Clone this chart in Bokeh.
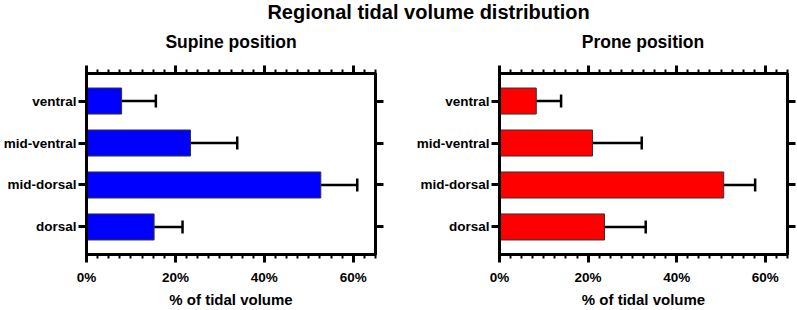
from bokeh.plotting import figure
from bokeh.layouts import column, row
from bokeh.models import (FactorRange, Range1d, LinearAxis, CategoricalAxis, FixedTicker,
                          Whisker, TeeHead, ColumnDataSource, Label, CustomLabelingPolicy)
from bokeh.embed import file_html
from bokeh.resources import INLINE

# ---------------- data ----------------
regions = ["ventral", "mid-ventral", "mid-dorsal", "dorsal"]
supine_mean = [7.9, 23.4, 52.7, 15.2]
supine_sd = [7.7, 10.5, 8.2, 6.4]
prone_mean = [8.3, 21.0, 50.6, 23.7]
prone_sd = [5.6, 11.1, 7.1, 9.3]
x_major_ticks = [0, 20, 40, 60]
x_tick_labels = ["0%", "20%", "40%", "60%"]
x_minor_ticks = [0, 2.5, 5, 7.5, 10, 12.5, 15, 17.5, 20, 22.5, 25, 27.5, 30, 32.5, 35,
                 37.5, 40, 42.5, 45, 47.5, 50, 52.5, 55, 57.5, 60, 62.5, 65]
main_title = "Regional tidal volume distribution"
panel_titles = ["Supine position", "Prone position"]
x_axis_label = "% of tidal volume"

FONT = "Liberation Sans"


def no_labels():
    return CustomLabelingPolicy(code="return []")


def panel(means, sds, color, width, border_left, border_right):
    src = ColumnDataSource(dict(region=regions, mean=means,
                                upper=[m + s for m, s in zip(means, sds)]))
    p = figure(width=width, height=255, title=None,
               y_range=FactorRange(*reversed(regions), range_padding=0.078),
               x_range=Range1d(0, 65),
               toolbar_location=None, output_backend="svg",
               min_border_left=border_left, min_border_right=border_right,
               min_border_top=18, min_border_bottom=40)
    p.hbar(y="region", left=0, right="mean", height=0.62, source=src,
           fill_color=color, line_color="#333333", line_width=1)
    w = Whisker(base="region", lower="mean", upper="upper", source=src,
                dimension="width", lower_head=None,
                upper_head=TeeHead(size=13, line_width=2.5, line_color="black"),
                line_width=2.5, line_color="black")
    p.add_layout(w)

    p.grid.visible = False
    p.outline_line_color = "black"
    p.outline_line_width = 3
    p.background_fill_color = "white"
    p.border_fill_color = "white"

    ticker = FixedTicker(ticks=x_major_ticks, minor_ticks=x_minor_ticks)
    overrides = {t: l for t, l in zip(x_major_ticks, x_tick_labels)}

    xa = p.xaxis[0]
    xa.ticker = ticker
    xa.major_label_overrides = overrides
    xa.axis_label = x_axis_label
    xa.axis_label_text_font = FONT
    xa.axis_label_text_font_size = "15px"
    xa.axis_label_text_font_style = "bold"
    xa.axis_label_text_color = "black"
    xa.axis_label_standoff = 3
    xa.major_label_text_font = FONT
    xa.major_label_text_font_size = "13.5px"
    xa.major_label_text_font_style = "bold"
    xa.major_label_standoff = 7

    top = LinearAxis(ticker=ticker, major_label_policy=no_labels(),
                     major_label_text_font_size="0px", major_label_standoff=0,
                     axis_label_standoff=0)
    p.add_layout(top, "above")
    right = CategoricalAxis(major_label_policy=no_labels(),
                            major_label_text_font_size="0px", major_label_standoff=0,
                            axis_label_standoff=0)
    p.add_layout(right, "right")

    ya = p.yaxis[0]
    ya.major_label_text_font = FONT
    ya.major_label_text_font_size = "13.5px"
    ya.major_label_text_font_style = "bold"
    ya.major_label_standoff = 2

    for ax in [xa, top, ya, right]:
        ax.axis_line_width = 3
        ax.axis_line_color = "black"
        ax.major_tick_line_width = 3
        ax.major_tick_line_color = "black"
        ax.major_tick_in = 0
        ax.major_tick_out = 8
        ax.minor_tick_line_width = 2
        ax.minor_tick_line_color = "black"
        ax.minor_tick_in = 0
        ax.minor_tick_out = 4
        ax.major_label_text_color = "black"
    return p


p1 = panel(supine_mean, supine_sd, "#0000FF", 400, 86, 25)
p2 = panel(prone_mean, prone_sd, "#FF0000", 397, 99, 10)

tf = figure(width=797, height=55, x_range=Range1d(0, 1), y_range=Range1d(0, 1),
            toolbar_location=None, output_backend="svg", min_border=0,
            x_axis_location=None, y_axis_location=None, outline_line_color=None)
tf.grid.visible = False
tf.add_layout(Label(x=428, y=44, x_units="screen", y_units="screen", text=main_title,
                    text_align="center", text_baseline="alphabetic",
                    text_font=FONT, text_font_size="20px", text_font_style="bold",
                    text_color="black"))
for cx, t in zip([230.5, 642.5], panel_titles):
    tf.add_layout(Label(x=cx, y=13.5, x_units="screen", y_units="screen", text=t,
                        text_align="center", text_baseline="alphabetic",
                        text_font=FONT, text_font_size="17.5px", text_font_style="bold",
                        text_color="black"))

layout = column(tf, row(p1, p2, spacing=0), spacing=0)

open("out.html", "w").write(file_html(layout, INLINE))
